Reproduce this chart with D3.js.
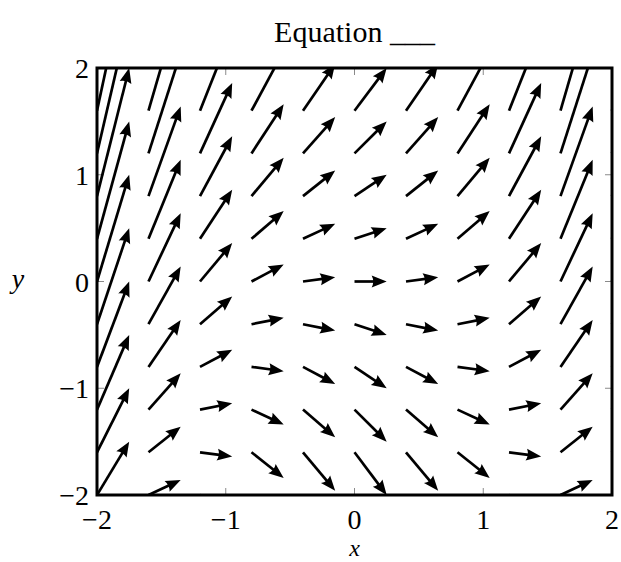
<!DOCTYPE html>
<html>
<head>
<meta charset="utf-8">
<script src="https://cdn.jsdelivr.net/npm/d3@7"></script>
<style>
  body { margin: 0; background: #fff; }
  text { font-family: 'Liberation Serif', 'DejaVu Serif', serif; fill: #000; }
</style>
</head>
<body>
<div id="root"></div>
<script>
// grid of sample points (tails of the arrows)
let xs = [-2, -1.6, -1.2, -0.8, -0.4, 0, 0.4, 0.8, 1.2, 1.6, 2]
let ys = [2, 1.6, 1.2, 0.8, 0.4, 0, -0.4, -0.8, -1.2, -1.6, -2]
// slope dy/dx read at each point, one row per y (top to bottom), one column per x
let slopes = [
  [6, 4.56, 3.44, 2.64, 2.16, 2, 2.16, 2.64, 3.44, 4.56, 6],
  [5.6, 4.16, 3.04, 2.24, 1.76, 1.6, 1.76, 2.24, 3.04, 4.16, 5.6],
  [5.2, 3.76, 2.64, 1.84, 1.36, 1.2, 1.36, 1.84, 2.64, 3.76, 5.2],
  [4.8, 3.36, 2.24, 1.44, 0.96, 0.8, 0.96, 1.44, 2.24, 3.36, 4.8],
  [4.4, 2.96, 1.84, 1.04, 0.56, 0.4, 0.56, 1.04, 1.84, 2.96, 4.4],
  [4, 2.56, 1.44, 0.64, 0.16, 0, 0.16, 0.64, 1.44, 2.56, 4],
  [3.6, 2.16, 1.04, 0.24, -0.24, -0.4, -0.24, 0.24, 1.04, 2.16, 3.6],
  [3.2, 1.76, 0.64, -0.16, -0.64, -0.8, -0.64, -0.16, 0.64, 1.76, 3.2],
  [2.8, 1.36, 0.24, -0.56, -1.04, -1.2, -1.04, -0.56, 0.24, 1.36, 2.8],
  [2.4, 0.96, -0.16, -0.96, -1.44, -1.6, -1.44, -0.96, -0.16, 0.96, 2.4],
  [2, 0.56, -0.56, -1.36, -1.84, -2, -1.84, -1.36, -0.56, 0.56, 2]
]
let xTicks = [-2, -1, 0, 1, 2]
let yTicks = [-2, -1, 0, 1, 2]
let title = 'Equation ___'

let W = 621, H = 562
let pL = 97, pR = 612, pT = 68, pB = 495
let step = 0.25          // arrow length along x, in data units
let headLen = 15, headW = 6

let svg = d3.select('#root').append('svg').attr('width', W).attr('height', H)

let x = d3.scaleLinear().domain([-2, 2]).range([pL, pR])
let y = d3.scaleLinear().domain([-2, 2]).range([pB, pT])

svg.append('defs').append('clipPath').attr('id', 'clip')
   .append('rect')
   .attr('x', pL).attr('y', pT)
   .attr('width', pR - pL).attr('height', pB - pT)

// ticks (inside, on all four sides)
let tickG = svg.append('g').attr('stroke', '#8a8a8a').attr('stroke-width', 1)
xTicks.forEach(t => {
  tickG.append('line').attr('x1', x(t)).attr('x2', x(t)).attr('y1', pB).attr('y2', pB - 7)
  tickG.append('line').attr('x1', x(t)).attr('x2', x(t)).attr('y1', pT).attr('y2', pT + 7)
})
yTicks.forEach(t => {
  tickG.append('line').attr('y1', y(t)).attr('y2', y(t)).attr('x1', pL).attr('x2', pL + 7)
  tickG.append('line').attr('y1', y(t)).attr('y2', y(t)).attr('x1', pR).attr('x2', pR - 7)
})

// flatten grid into arrow records
let arrows = []
ys.forEach((yv, i) => xs.forEach((xv, j) => arrows.push({x: xv, y: yv, s: slopes[i][j]})))

let field = svg.append('g').attr('clip-path', 'url(#clip)')

let arrow = field.selectAll('g.arrow')
  .data(arrows).enter()
  .append('g').attr('class', 'arrow')

arrow.each(function(d) {
  let x0 = x(d.x), y0 = y(d.y)
  let x1 = x(d.x + step), y1 = y(d.y + step * d.s)
  let dx = x1 - x0, dy = y1 - y0
  let len = Math.sqrt(dx * dx + dy * dy)
  let ux = dx / len, uy = dy / len
  let bx = x1 - ux * headLen, by = y1 - uy * headLen
  let g = d3.select(this)
  g.append('line')
   .attr('x1', x0).attr('y1', y0)
   .attr('x2', x1 - ux * headLen * 0.6).attr('y2', y1 - uy * headLen * 0.6)
   .attr('stroke', '#000').attr('stroke-width', 2.7)
  g.append('path')
   .attr('d', `M${x1},${y1} L${bx - uy * headW},${by + ux * headW} Q${x1 - ux * headLen * 0.8},${y1 - uy * headLen * 0.8} ${bx + uy * headW},${by - ux * headW} Z`)
   .attr('fill', '#000')
})

// axis frame
svg.append('rect')
   .attr('x', pL).attr('y', pT)
   .attr('width', pR - pL).attr('height', pB - pT)
   .attr('fill', 'none').attr('stroke', '#000').attr('stroke-width', 3)

let fmt = t => (t < 0 ? '\u2212' : '') + Math.abs(t)

svg.selectAll('.xlab').data(xTicks).enter()
   .append('text').attr('class', 'xlab')
   .attr('x', x).attr('y', 529)
   .attr('text-anchor', 'middle').attr('font-size', 28)
   .text(fmt)

svg.selectAll('.ylab').data(yTicks).enter()
   .append('text').attr('class', 'ylab')
   .attr('x', 89).attr('y', d => y(d) + 10)
   .attr('text-anchor', 'end').attr('font-size', 28)
   .text(fmt)

svg.append('text')
   .attr('x', (pL + pR) / 2).attr('y', 42)
   .attr('text-anchor', 'middle').attr('font-size', 30)
   .text(title)

svg.append('text')
   .attr('x', (pL + pR) / 2).attr('y', 556)
   .attr('text-anchor', 'middle').attr('font-size', 24).attr('font-style', 'italic')
   .text('x')

svg.append('text')
   .attr('x', 18).attr('y', y(0) + 6)
   .attr('text-anchor', 'middle').attr('font-size', 28).attr('font-style', 'italic')
   .text('y')
</script>
</body>
</html>
